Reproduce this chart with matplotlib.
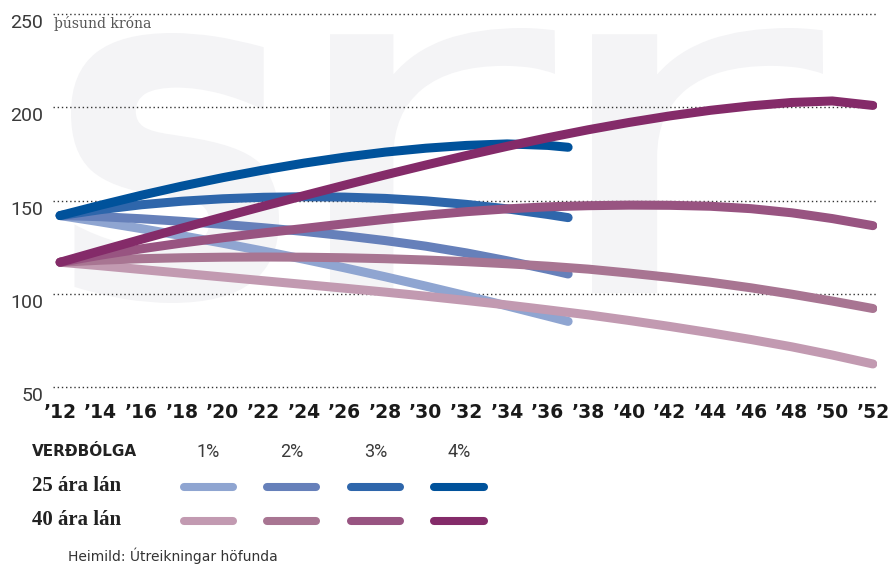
import numpy as np
import matplotlib
matplotlib.use("Agg")
import matplotlib.pyplot as plt
import matplotlib.transforms as mtransforms
from matplotlib.textpath import TextPath
from matplotlib.patches import PathPatch
from matplotlib.font_manager import FontProperties
from matplotlib.lines import Line2D

# ---- data (thousand ISK per month) ----
years_25 = [2012, 2014, 2016, 2018, 2020, 2022, 2024, 2026, 2028, 2030, 2032, 2034, 2036, 2037]
loan25_1 = [142, 138.6, 135, 131.2, 127.2, 123, 118.6, 114, 109.2, 104.2, 99, 93.6, 88.1, 85.3]
loan25_2 = [142, 141.4, 140.3, 138.9, 137.3, 135.5, 133.5, 131.2, 128.6, 125.6, 122, 117.8, 113.2, 110.7]
loan25_3 = [142, 145.2, 147.8, 149.7, 151, 151.8, 152.1, 151.9, 151.2, 149.9, 148, 145.6, 142.6, 140.9]
loan25_4 = [142, 147.6, 152.9, 157.8, 162.3, 166.4, 170.1, 173.3, 176, 178.1, 179.6, 180.4, 179.6, 178.6]

years_40 = [2012, 2014, 2016, 2018, 2020, 2022, 2024, 2026, 2028, 2030, 2032,
            2034, 2036, 2038, 2040, 2042, 2044, 2046, 2048, 2050, 2052]
loan40_1 = [117, 115.1, 113.1, 111.1, 109.1, 107.1, 105.1, 103.1, 101, 98.8, 96.5,
            94.1, 91.5, 88.8, 85.8, 82.6, 79.2, 75.6, 71.7, 67.3, 62.5]
loan40_2 = [117, 118.1, 118.9, 119.4, 119.7, 119.8, 119.7, 119.4, 118.9, 118.2, 117.3,
            116.2, 114.9, 113.3, 111.2, 108.9, 106.3, 103.3, 99.9, 96.2, 92.2]
loan40_3 = [117, 120.8, 124.2, 127.3, 130.1, 132.7, 135.1, 137.6, 140, 142.2, 144.1,
            145.6, 146.7, 147.3, 147.6, 147.5, 147, 145.7, 143.5, 140.4, 136.6]
loan40_4 = [117, 123.2, 129.3, 135.3, 141.2, 147, 152.7, 158.3, 163.8, 169.1, 174.2,
            179.1, 183.7, 188, 191.9, 195.4, 198.4, 200.8, 202.6, 203.4, 201]

inflation = ["1%", "2%", "3%", "4%"]
blues = ["#8FA5D1", "#6680BA", "#2E66AB", "#00529B"]
purples = ["#C29AB1", "#A87592", "#985481", "#842B69"]

x_ticks = list(range(2012, 2053, 2))
x_labels = ["\u2019" + str(y)[2:] for y in x_ticks]
y_ticks = [50, 100, 150, 200, 250]

W, H = 890, 564
fig = plt.figure(figsize=(W / 100, H / 100), dpi=100)

def fx(px):
    return px / W

def fy(py):
    return 1 - py / H

# watermark logo (light grey letters in background)
def add_mark(ch, x0, y0, x1, y1, weight):
    tp = TextPath((0, 0), ch, size=100, prop=FontProperties(family="DejaVu Sans", weight=weight))
    ext = tp.get_extents()
    tr = (mtransforms.Affine2D()
          .translate(-ext.x0, -ext.y0)
          .scale((x1 - x0) / ext.width / W, (y1 - y0) / ext.height / H)
          .translate(x0 / W, (H - y1) / H) + fig.transFigure)
    fig.add_artist(PathPatch(tp, transform=tr, fc="#f4f4f6", ec="none", zorder=-1))

add_mark("s", 71, 33, 279, 303, "bold")
add_mark("r", 330, 28, 555, 293, "normal")
add_mark("r", 592, 28, 823, 293, "normal")

ax = fig.add_axes([fx(53), fy(387.3), fx(877) - fx(53), fy(14) - fy(387.3)])
ax.set_facecolor("none")
ax.set_xlim(2011.65, 2052.2)
ax.set_ylim(50, 250)
for s in ax.spines.values():
    s.set_visible(False)

for v in y_ticks:
    ax.axhline(v, color="#333333", lw=1, linestyle=(0, (1, 2)), zorder=1, clip_on=False)

for vals, c in zip([loan25_1, loan25_2, loan25_3, loan25_4], blues):
    ax.plot(years_25, vals, color=c, lw=6.5, solid_capstyle="round", zorder=2)
for vals, c in zip([loan40_1, loan40_2, loan40_3, loan40_4], purples):
    ax.plot(years_40, vals, color=c, lw=6.5, solid_capstyle="round", zorder=3)

ax.set_xticks(x_ticks)
ax.set_xticklabels(x_labels, fontsize=13.5, fontweight="bold", color="#1a1a1a")
ax.set_yticks(y_ticks)
ax.set_yticklabels([str(v) for v in y_ticks], fontsize=14, color="#3a3a3a",
                   family="Roboto")
for lab in ax.get_yticklabels():
    lab.set_va("top")
ax.tick_params(axis="x", length=0, pad=11)
ax.tick_params(axis="y", length=0, pad=7)

fig.text(fx(54), fy(16), "þúsund króna", fontsize=10, color="#555555",
         family="DejaVu Serif", va="top", ha="left")

# legend
fig.text(fx(32), fy(452), "VERÐBÓLGA", fontsize=11, fontweight="bold",
         color="#222222", va="center", ha="left")
seg_x = [(184, 233), (267, 316), (351, 400), (434, 484)]
for (a, b), lab in zip(seg_x, inflation):
    fig.text(fx((a + b) / 2), fy(452), lab, fontsize=13, color="#3a3a3a",
             family="Roboto", va="center", ha="center")
for row_y, label, cols in [(486, "25 ára lán", blues), (520, "40 ára lán", purples)]:
    fig.text(fx(32), fy(row_y), label, fontsize=15, fontweight="bold",
             family="Liberation Serif", color="#222222", va="center", ha="left")
    for (a, b), c in zip(seg_x, cols):
        fig.add_artist(Line2D([fx(a), fx(b)], [fy(row_y + 1), fy(row_y + 1)],
                              transform=fig.transFigure, color=c, lw=5.8,
                              solid_capstyle="round"))

fig.text(fx(68), fy(556), "Heimild: Útreikningar höfunda", fontsize=10,
         color="#333333", va="center", ha="left")

fig.savefig("out.png", dpi=100)
